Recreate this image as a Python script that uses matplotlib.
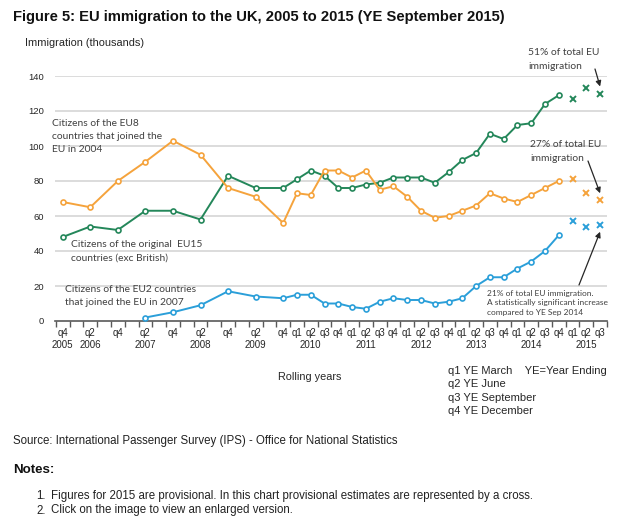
import matplotlib
matplotlib.use("Agg")
import matplotlib.pyplot as plt
import matplotlib.transforms as mtransforms

# rolling years, semi-annual up to 2009 then quarterly
periods = ["q4 2005", "q2 2006", "q4 2006", "q2 2007", "q4 2007", "q2 2008",
           "q4 2008", "q2 2009", "q4 2009",
           "q1 2010", "q2 2010", "q3 2010", "q4 2010",
           "q1 2011", "q2 2011", "q3 2011", "q4 2011",
           "q1 2012", "q2 2012", "q3 2012", "q4 2012",
           "q1 2013", "q2 2013", "q3 2013", "q4 2013",
           "q1 2014", "q2 2014", "q3 2014", "q4 2014"]
provisional = ["q1 2015", "q2 2015", "q3 2015"]

eu15 = [48, 54, 52, 63, 63, 58, 83, 76, 76,
        81, 86, 83, 76, 76, 78, 79, 82, 82, 82, 79, 85,
        92, 96, 107, 104, 112, 113, 124, 129]
eu15_prov = [127, 133, 130]

eu8 = [68, 65, 80, 91, 103, 95, 76, 71, 56,
       73, 72, 86, 86, 82, 86, 75, 77, 71, 63, 59, 60,
       63, 66, 73, 70, 68, 72, 76, 80]
eu8_prov = [81, 73, 69]

eu2 = [None, None, None, 2, 5, 9, 17, 14, 13,
       15, 15, 10, 10, 8, 7, 11, 13, 12, 12, 10, 11,
       13, 20, 25, 25, 30, 34, 40, 49]
eu2_prov = [57, 54, 55]

yticks = [0, 20, 40, 60, 80, 100, 120, 140]

GREEN = "#24875a"
ORANGE = "#f5a33c"
BLUE = "#2b9fd9"
TXT = "#404040"


def qpos(label):
    q, year = label.split()
    return (int(year) - 2005) * 4 + int(q[1]) - 4


W, H = 640, 523


def fx(x):
    return x / W


def fy(y):
    return 1 - y / H


fig = plt.figure(figsize=(6.4, 5.23), dpi=100)
ax = fig.add_axes([fx(55), fy(321), fx(607) - fx(55), fy(76) - fy(321)])

xs = [qpos(p) for p in periods]
xp = [qpos(p) for p in provisional]

for vals, prov, col in [(eu15, eu15_prov, GREEN), (eu8, eu8_prov, ORANGE), (eu2, eu2_prov, BLUE)]:
    pts = [(x, v) for x, v in zip(xs, vals) if v is not None]
    ax.plot([p[0] for p in pts], [p[1] for p in pts], color=col, lw=1.4,
            marker="o", ms=3.6, mfc="white", mec=col, mew=1.2, zorder=3)
    ax.plot(xp, prov, ls="none", marker="x", ms=5, mec=col, mew=1.4, zorder=3)

ax.set_xlim(-0.56, 39.5)
ax.set_ylim(0, 140)
for s in ["top", "right", "left"]:
    ax.spines[s].set_visible(False)
ax.spines["bottom"].set_color("#595959")
ax.spines["bottom"].set_linewidth(1.2)

ax.set_yticks(yticks)
ax.set_yticklabels([str(v) for v in yticks], fontsize=6.8, color="#262626",
                   family="Liberation Sans")
ax.tick_params(axis="y", length=0, pad=8)
for v in yticks[1:]:
    ax.axhline(v, color="#d9d9d9", lw=1.3, zorder=1)

# x labels: quarter row, then year row under q2 (and the first q4)
all_periods = periods + provisional
ax.set_xticks([qpos(p) for p in all_periods])
ax.set_xticklabels([p.split()[0] for p in all_periods], fontsize=7,
                   color="#262626", family="Liberation Sans")
ax.tick_params(axis="x", length=0, pad=5.3)
ax.set_xticks([k - 0.5 for k in range(0, 41)], minor=True)
ax.tick_params(axis="x", which="minor", length=4, width=1, color="#595959", direction="out")

trans = mtransforms.blended_transform_factory(ax.transData, fig.transFigure)
for p in all_periods:
    q, year = p.split()
    if q == "q2" or p == "q4 2005":
        ax.text(qpos(p), fy(345), year, transform=trans, ha="center", va="center",
                fontsize=7, color="#262626", family="Liberation Sans")

calibri = ["Lato", "DejaVu Sans"]
arial = ["Liberation Sans", "DejaVu Sans"]

fig.text(fx(13), fy(17), "Figure 5: EU immigration to the UK, 2005 to 2015 (YE September 2015)",
         fontsize=10.6, fontweight="bold", family=arial, va="center", color="#111111")
fig.text(fx(25), fy(43), "Immigration (thousands)", fontsize=7.9, family=arial,
         va="center", color="#262626")

lbl = dict(fontsize=7.4, family=calibri, color=TXT, va="center", linespacing=1.6)
fig.text(fx(52), fy(136.5), "Citizens of the EU8\ncountries that joined the\nEU in 2004", **lbl)
fig.text(fx(71), fy(251), "Citizens of the original  EU15\ncountries (exc British)", **lbl)
fig.text(fx(65), fy(296), "Citizens of the EU2 countries\nthat joined the EU in 2007", **lbl)
fig.text(fx(528), fy(59.5), "51% of total EU\nimmigration", **lbl)
fig.text(fx(530), fy(151.5), "27% of total EU\nimmigration", **lbl)
fig.text(fx(487), fy(303), "21% of total EU immigration.\nA statistically significant increase\ncompared to YE Sep 2014",
         fontsize=6.0, family=calibri, color=TXT, va="center", linespacing=1.45)

arrow = dict(arrowstyle="-|>", color="#262626", lw=0.9, mutation_scale=8,
             shrinkA=0, shrinkB=0)
ax.annotate("", xy=(xp[-1], eu15_prov[-1] + 4), xytext=(fx(595), fy(69)),
            textcoords="figure fraction", arrowprops=arrow)
ax.annotate("", xy=(xp[-1], eu8_prov[-1] + 4), xytext=(fx(588), fy(161)),
            textcoords="figure fraction", arrowprops=arrow)
ax.annotate("", xy=(xp[-1], eu2_prov[-1] - 4), xytext=(fx(579), fy(285)),
            textcoords="figure fraction", arrowprops=arrow)

fig.text(fx(278), fy(377), "Rolling years", fontsize=7.8, family=arial, va="center",
         color="#262626")
key = ["q1 YE March    YE=Year Ending", "q2 YE June", "q3 YE September", "q4 YE December"]
for i, k in enumerate(key):
    fig.text(fx(448), fy(371 + 13.3 * i), k, fontsize=8, family=arial, va="center",
             color="#262626")

fig.text(fx(13), fy(441), "Source: International Passenger Survey (IPS) - Office for National Statistics",
         fontsize=8.3, family=arial, va="center", color="#222222")
fig.text(fx(13), fy(470), "Notes:", fontsize=9.6, fontweight="bold", family=arial,
         va="center", color="#111111")
notes = ["Figures for 2015 are provisional. In this chart provisional estimates are represented by a cross.",
         "Click on the image to view an enlarged version."]
for i, n in enumerate(notes):
    fig.text(fx(36), fy(496 + 14.5 * i), "%d." % (i + 1), fontsize=8.3, family=arial,
             va="center", color="#222222")
    fig.text(fx(51), fy(496 + 14.5 * i), n, fontsize=8.3, family=arial,
             va="center", color="#222222")

fig.savefig("out.png", dpi=100)
